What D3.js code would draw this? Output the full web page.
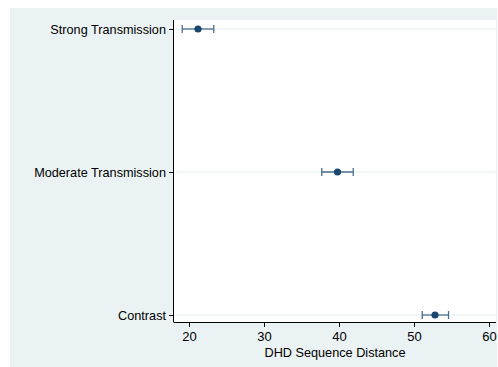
<!DOCTYPE html>
<html>
<head>
<meta charset="utf-8">
<script src="https://cdn.jsdelivr.net/npm/d3@7"></script>
<style>
  body { margin: 0; background: #fff; }
  text { font-family: "Liberation Sans", Arial, sans-serif; }
</style>
</head>
<body>
<svg width="498" height="367"></svg>
<script>
// data
var categories = ["Strong Transmission", "Moderate Transmission", "Contrast"];
var estimates = [21.2, 39.8, 52.8];
var lower = [19.1, 37.7, 51.1];
var upper = [23.3, 41.9, 54.6];
var xTicks = [20, 30, 40, 50, 60];

var svg = d3.select("svg"),
    width = +svg.attr("width"),
    height = +svg.attr("height");

// outer stata-ish background
svg.append("rect")
    .attr("x", 10).attr("y", 8)
    .attr("width", width - 11).attr("height", height - 8)
    .attr("fill", "#eaf2f3");

var plot = { left: 174, right: 496, top: 20, bottom: 322 };

svg.append("rect")
    .attr("x", plot.left).attr("y", plot.top)
    .attr("width", plot.right - plot.left).attr("height", plot.bottom - plot.top)
    .attr("fill", "#fff");

var x = d3.scaleLinear().domain([18, 60.93]).range([plot.left, plot.right]);
var y = d3.scalePoint().domain(categories).range([29, 315]);

var rows = categories.map(function (c, i) {
    return { cat: c, est: estimates[i], lo: lower[i], hi: upper[i] };
});

// gridlines
svg.append("g")
    .selectAll("line")
    .data(categories)
    .enter().append("line")
    .attr("x1", plot.left).attr("x2", plot.right)
    .attr("y1", function (d) { return y(d); })
    .attr("y2", function (d) { return y(d); })
    .style("stroke", "#e6eef0")
    .style("stroke-width", 1);

// x axis
var xAxis = svg.append("g")
    .attr("transform", "translate(0," + plot.bottom + ")")
    .call(d3.axisBottom(x).tickValues(xTicks).tickSize(5).tickPadding(5));
xAxis.select(".domain").attr("d", "M" + plot.left + ",0.5H" + plot.right).style("stroke", "#000");
xAxis.selectAll(".tick line").style("stroke", "#000");
xAxis.selectAll("text").style("font-size", "13px").style("fill", "#000");

// y axis
var yAxis = svg.append("g")
    .attr("transform", "translate(" + plot.left + ",0)")
    .call(d3.axisLeft(y).tickSize(5).tickPadding(3));
yAxis.select(".domain").attr("d", "M-0.5," + plot.top + "V" + (plot.bottom + 0.5)).style("stroke", "#000");
yAxis.selectAll(".tick line").style("stroke", "#000");
yAxis.selectAll("text").style("font-size", "12.7px").style("fill", "#000");

// axis title
svg.append("text")
    .attr("x", 335)
    .attr("y", 357)
    .attr("text-anchor", "middle")
    .style("font-size", "12.7px")
    .text("DHD Sequence Distance");

// CI bars
var ci = svg.append("g").style("stroke", "#4a6e8f").style("stroke-width", 1.3);
ci.selectAll(".bar").data(rows).enter().append("line")
    .attr("x1", function (d) { return x(d.lo); })
    .attr("x2", function (d) { return x(d.hi); })
    .attr("y1", function (d) { return y(d.cat); })
    .attr("y2", function (d) { return y(d.cat); });
ci.selectAll(".capl").data(rows).enter().append("line")
    .attr("x1", function (d) { return x(d.lo); })
    .attr("x2", function (d) { return x(d.lo); })
    .attr("y1", function (d) { return y(d.cat) - 4; })
    .attr("y2", function (d) { return y(d.cat) + 4; });
ci.selectAll(".capr").data(rows).enter().append("line")
    .attr("x1", function (d) { return x(d.hi); })
    .attr("x2", function (d) { return x(d.hi); })
    .attr("y1", function (d) { return y(d.cat) - 4; })
    .attr("y2", function (d) { return y(d.cat) + 4; });

// points
svg.append("g")
    .selectAll("circle")
    .data(rows)
    .enter().append("circle")
    .attr("cx", function (d) { return x(d.est); })
    .attr("cy", function (d) { return y(d.cat); })
    .attr("r", 3.6)
    .attr("fill", "#1a476f");
</script>
</body>
</html>
